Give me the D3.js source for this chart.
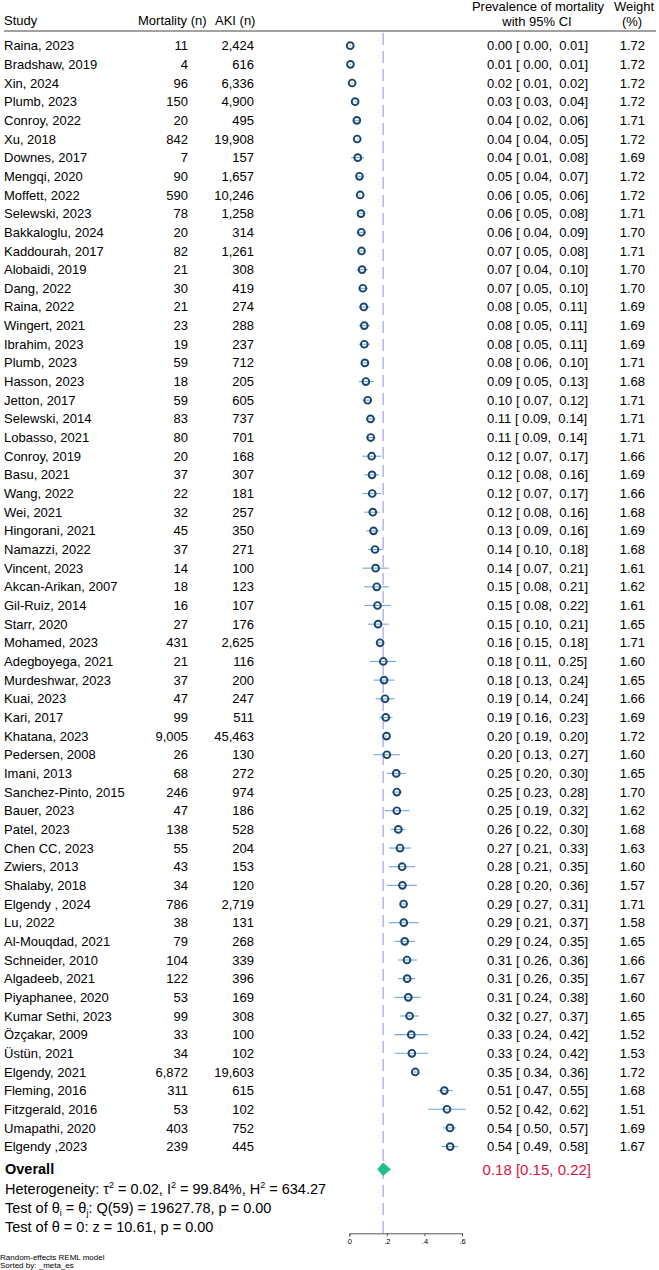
<!DOCTYPE html>
<html><head><meta charset="utf-8">
<script src="https://cdn.jsdelivr.net/npm/d3@7"></script>
<style>
html,body{margin:0;padding:0;background:#fff;}
svg text{font-family:"Liberation Sans",Arial,sans-serif;}
</style></head>
<body><svg id="chart" width="659" height="1270"></svg>
<script>
const studies = ["Raina, 2023","Bradshaw, 2019","Xin, 2024","Plumb, 2023","Conroy, 2022","Xu, 2018","Downes, 2017","Mengqi, 2020","Moffett, 2022","Selewski, 2023","Bakkaloglu, 2024","Kaddourah, 2017","Alobaidi, 2019","Dang, 2022","Raina, 2022","Wingert, 2021","Ibrahim, 2023","Plumb, 2023","Hasson, 2023","Jetton, 2017","Selewski, 2014","Lobasso, 2021","Conroy, 2019","Basu, 2021","Wang, 2022","Wei, 2021","Hingorani, 2021","Namazzi, 2022","Vincent, 2023","Akcan-Arikan, 2007","Gil-Ruiz, 2014","Starr, 2020","Mohamed, 2023","Adegboyega, 2021","Murdeshwar, 2023","Kuai, 2023","Kari, 2017","Khatana, 2023","Pedersen, 2008","Imani, 2013","Sanchez-Pinto, 2015","Bauer, 2023","Patel, 2023","Chen CC, 2023","Zwiers, 2013","Shalaby, 2018","Elgendy , 2024","Lu, 2022","Al-Mouqdad, 2021","Schneider, 2010","Algadeeb, 2021","Piyaphanee, 2020","Kumar Sethi, 2023","Özçakar, 2009","Üstün, 2021","Elgendy, 2021","Fleming, 2016","Fitzgerald, 2016","Umapathi, 2020","Elgendy ,2023"];
const mortality = ["11","4","96","150","20","842","7","90","590","78","20","82","21","30","21","23","19","59","18","59","83","80","20","37","22","32","45","37","14","18","16","27","431","21","37","47","99","9,005","26","68","246","47","138","55","43","34","786","38","79","104","122","53","99","33","34","6,872","311","53","403","239"];
const aki = ["2,424","616","6,336","4,900","495","19,908","157","1,657","10,246","1,258","314","1,261","308","419","274","288","237","712","205","605","737","701","168","307","181","257","350","271","100","123","107","176","2,625","116","200","247","511","45,463","130","272","974","186","528","204","153","120","2,719","131","268","339","396","169","308","100","102","19,603","615","102","752","445"];
const es = [0.005,0.006,0.015,0.031,0.040,0.042,0.045,0.054,0.058,0.062,0.064,0.065,0.068,0.072,0.077,0.080,0.080,0.083,0.088,0.098,0.113,0.114,0.119,0.121,0.122,0.125,0.129,0.137,0.140,0.146,0.150,0.153,0.164,0.181,0.185,0.190,0.194,0.198,0.200,0.250,0.253,0.253,0.261,0.270,0.281,0.283,0.289,0.290,0.295,0.307,0.308,0.314,0.321,0.330,0.333,0.351,0.506,0.520,0.536,0.537];
const esText = ["0.00","0.01","0.02","0.03","0.04","0.04","0.04","0.05","0.06","0.06","0.06","0.07","0.07","0.07","0.08","0.08","0.08","0.08","0.09","0.10","0.11","0.11","0.12","0.12","0.12","0.12","0.13","0.14","0.14","0.15","0.15","0.15","0.16","0.18","0.18","0.19","0.19","0.20","0.20","0.25","0.25","0.25","0.26","0.27","0.28","0.28","0.29","0.29","0.29","0.31","0.31","0.31","0.32","0.33","0.33","0.35","0.51","0.52","0.54","0.54"];
const ciLow = [0.00,0.00,0.01,0.03,0.02,0.04,0.01,0.04,0.05,0.05,0.04,0.05,0.04,0.05,0.05,0.05,0.05,0.06,0.05,0.07,0.09,0.09,0.07,0.08,0.07,0.08,0.09,0.10,0.07,0.08,0.08,0.10,0.15,0.11,0.13,0.14,0.16,0.19,0.13,0.20,0.23,0.19,0.22,0.21,0.21,0.20,0.27,0.21,0.24,0.26,0.26,0.24,0.27,0.24,0.24,0.34,0.47,0.42,0.50,0.49];
const ciHigh = [0.01,0.01,0.02,0.04,0.06,0.05,0.08,0.07,0.06,0.08,0.09,0.08,0.10,0.10,0.11,0.11,0.11,0.10,0.13,0.12,0.14,0.14,0.17,0.16,0.17,0.16,0.16,0.18,0.21,0.21,0.22,0.21,0.18,0.25,0.24,0.24,0.23,0.20,0.27,0.30,0.28,0.32,0.30,0.33,0.35,0.36,0.31,0.37,0.35,0.36,0.35,0.38,0.37,0.42,0.42,0.36,0.55,0.62,0.57,0.58];
const weights = ["1.72","1.72","1.72","1.72","1.71","1.72","1.69","1.72","1.72","1.71","1.70","1.71","1.70","1.70","1.69","1.69","1.69","1.71","1.68","1.71","1.71","1.71","1.66","1.69","1.66","1.68","1.69","1.68","1.61","1.62","1.61","1.65","1.71","1.60","1.65","1.66","1.69","1.72","1.60","1.65","1.70","1.62","1.68","1.63","1.60","1.57","1.71","1.58","1.65","1.66","1.67","1.60","1.65","1.52","1.53","1.72","1.68","1.51","1.69","1.67"];
const overall = {es:0.18, lo:0.15, hi:0.22, text:"0.18 [0.15, 0.22]"};
const xTicks = [0, 0.2, 0.4, 0.6];
const xTickLabels = ["0", ".2", ".4", ".6"];

const fmt2 = d3.format(".2f");
const rows = studies.map((s,i)=>({study:s, mort:mortality[i], aki:aki[i], es:es[i], lo:ciLow[i], hi:ciHigh[i], est:esText[i], w:weights[i]}));

const svg = d3.select("#chart");
const x = d3.scaleLinear().domain([0,0.6]).range([349.3,462]);
const y = d3.scaleLinear().domain([0,59]).range([45.7,1146.6]);
const yOverall = 1169.3;
const axisY = 1233.3;

// header
const hdr = svg.append("g").attr("font-size",13).attr("fill","#000");
hdr.append("text").attr("x",4).attr("y",25).text("Study");
hdr.append("text").attr("x",138).attr("y",25).text("Mortality (n)");
hdr.append("text").attr("x",215).attr("y",25).text("AKI (n)");
hdr.append("text").attr("x",538).attr("y",11).attr("text-anchor","middle").text("Prevalence of mortality");
hdr.append("text").attr("x",537).attr("y",25.5).attr("text-anchor","middle").text("with 95% CI");
hdr.append("text").attr("x",634).attr("y",11).attr("text-anchor","middle").text("Weight");
hdr.append("text").attr("x",632).attr("y",25.5).attr("text-anchor","middle").text("(%)");
svg.append("line").attr("x1",4).attr("x2",656).attr("y1",31).attr("y2",31).attr("stroke","#444").attr("stroke-width",1);

// reference dashed line
svg.append("line").attr("x1",x(overall.es)).attr("x2",x(overall.es)).attr("y1",33).attr("y2",axisY)
  .attr("stroke","#8f8ff0").attr("stroke-width",1).attr("stroke-dasharray","12,6");

// rows
const g = svg.append("g").attr("font-size",13).attr("fill","#000");
const r = g.selectAll("g.row").data(rows).join("g").attr("class","row").attr("transform",(d,i)=>`translate(0,${y(i)})`);
r.append("text").attr("x",4).attr("dy","0.35em").text(d=>d.study);
r.append("text").attr("x",188).attr("dy","0.35em").attr("text-anchor","end").text(d=>d.mort);
r.append("text").attr("x",254).attr("dy","0.35em").attr("text-anchor","end").text(d=>d.aki);
r.append("text").attr("x",487).attr("dy","0.35em").attr("xml:space","preserve").style("white-space","pre")
  .text(d=>`${d.est} [ ${fmt2(d.lo)},  ${fmt2(d.hi)}]`);
r.append("text").attr("x",645).attr("dy","0.35em").attr("text-anchor","end").text(d=>d.w);
r.append("line").attr("x1",d=>x(d.lo)).attr("x2",d=>x(d.hi)).attr("y1",0).attr("y2",0)
  .attr("stroke","#6fa6e0").attr("stroke-width",1.1);
r.append("circle").attr("cx",d=>x(d.es)).attr("cy",0).attr("r",3.4)
  .attr("fill","none").attr("stroke","#1a476f").attr("stroke-width",1.9);

// overall
svg.append("text").attr("x",5).attr("y",yOverall).attr("dy","0.35em").attr("font-size",14.5).attr("font-weight","bold").text("Overall");
const dPath = `M${x(overall.lo)},${yOverall} L${x(overall.es)},${yOverall-6.5} L${x(overall.hi)},${yOverall} L${x(overall.es)},${yOverall+6.5} Z`;
svg.append("path").attr("d",dPath).attr("fill","#1fbf86").attr("stroke","#1fbf86").attr("stroke-width",0.5);
svg.append("text").attr("x",591).attr("y",yOverall).attr("dy","0.35em").attr("text-anchor","end")
  .attr("font-size",15).attr("fill","#d6163e").text(overall.text);

// stats text
const st = svg.append("g").attr("font-size",14.5).attr("fill","#000");
const t1 = st.append("text").attr("x",5).attr("y",1189.3).attr("dy","0.35em");
t1.append("tspan").text("Heterogeneity: τ");
t1.append("tspan").attr("dy",-6).attr("font-size",9).text("2");
t1.append("tspan").attr("dy",6).text(" = 0.02, I");
t1.append("tspan").attr("dy",-6).attr("font-size",9).text("2");
t1.append("tspan").attr("dy",6).text(" = 99.84%, H");
t1.append("tspan").attr("dy",-6).attr("font-size",9).text("2");
t1.append("tspan").attr("dy",6).text(" = 634.27");
const t2 = st.append("text").attr("x",5).attr("y",1208.3).attr("dy","0.35em");
t2.append("tspan").text("Test of θ");
t2.append("tspan").attr("dy",3).attr("font-size",9).text("i");
t2.append("tspan").attr("dy",-3).text(" = θ");
t2.append("tspan").attr("dy",3).attr("font-size",9).text("j");
t2.append("tspan").attr("dy",-3).text(": Q(59) = 19627.78, p = 0.00");
st.append("text").attr("x",5).attr("y",1227.3).attr("dy","0.35em").text("Test of θ = 0: z = 10.61, p = 0.00");

// axis
const axis = d3.axisBottom(x).tickValues(xTicks).tickFormat((d,i)=>xTickLabels[i]).tickSize(3).tickPadding(2);
const ax = svg.append("g").attr("transform",`translate(0,${axisY})`).call(axis);
ax.select(".domain").attr("stroke","#555");
ax.selectAll(".tick line").attr("stroke","#555");
ax.selectAll(".tick text").attr("font-size",7.5).attr("fill","#000").attr("font-family","Liberation Sans, Arial, sans-serif");

// footer
svg.append("text").attr("x",0).attr("y",1259.5).attr("font-size",8).text("Random-effects REML model");
svg.append("text").attr("x",0).attr("y",1267.5).attr("font-size",8).text("Sorted by: _meta_es");
</script></body></html>
